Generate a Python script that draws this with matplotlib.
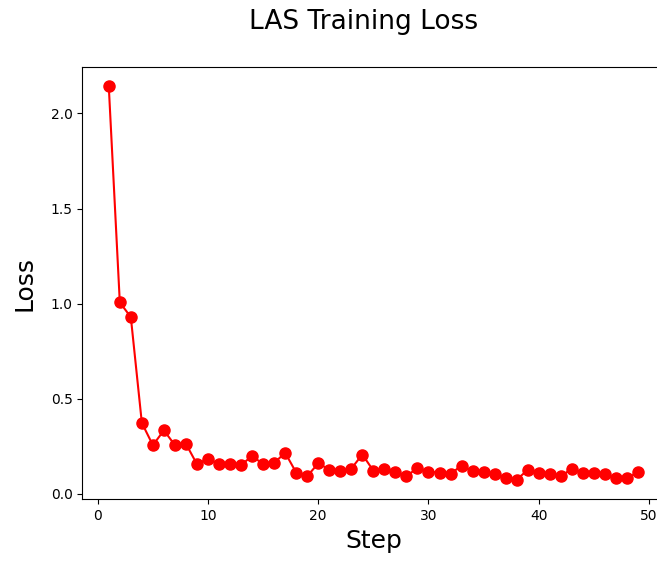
import matplotlib
matplotlib.use("Agg")
import matplotlib.pyplot as plt

# training loss per step
steps = list(range(1, 50))
loss = [
    2.142, 1.007, 0.929, 0.373, 0.256, 0.334, 0.256, 0.263, 0.156, 0.186,
    0.156, 0.156, 0.151, 0.200, 0.156, 0.163, 0.216, 0.112, 0.093, 0.161,
    0.128, 0.119, 0.133, 0.207, 0.122, 0.132, 0.116, 0.093, 0.137, 0.117,
    0.112, 0.105, 0.149, 0.119, 0.117, 0.105, 0.086, 0.075, 0.126, 0.109,
    0.107, 0.093, 0.132, 0.112, 0.112, 0.102, 0.082, 0.082, 0.114,
]

fig = plt.figure(figsize=(6.57, 5.61), dpi=100)
ax = fig.add_axes([0.1253, 0.110, 0.886, 0.771])

ax.plot(steps, loss, color="red", marker="o", markersize=8, linewidth=1.5)

ax.set_xlabel("Step", fontsize=18)
ax.set_ylabel("Loss", fontsize=18, labelpad=10)
fig.text(0.553, 0.961, "LAS Training Loss", ha="center", va="center", fontsize=19)

fig.savefig("out.png", dpi=100)
